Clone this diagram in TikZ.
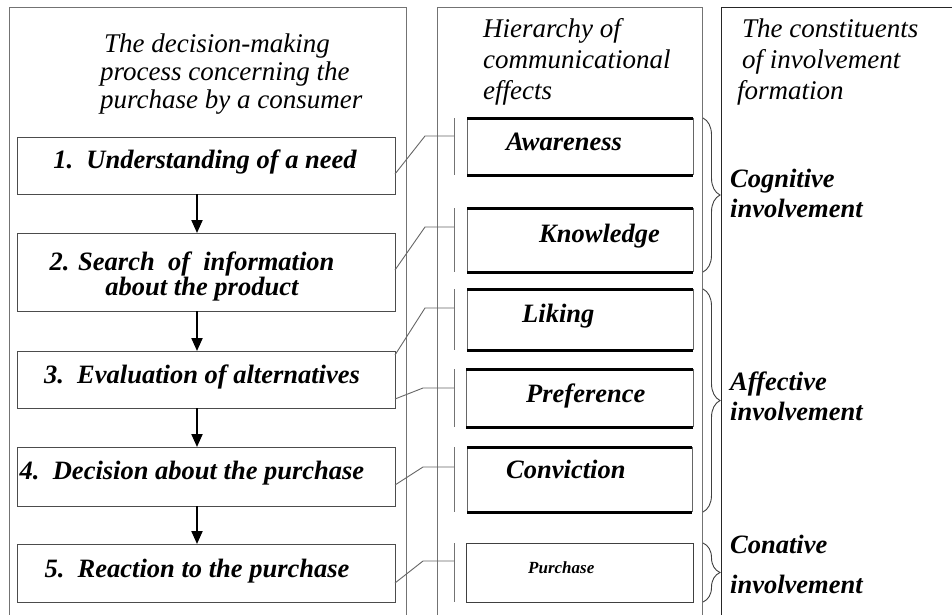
\documentclass[tikz,border=0pt]{standalone}
\usepackage{fontspec}
\setmainfont{Liberation Serif}
\usetikzlibrary{arrows.meta,decorations.pathreplacing,calc}
\begin{document}
\begin{tikzpicture}[x=1pt,y=-1pt,
  frame/.style={draw=black!55,line width=1pt},
  frame3/.style={draw=black!85,line width=1pt},
  stepbox/.style={draw=black!70,line width=1pt,minimum width=378pt,inner sep=0pt,outer sep=0pt},
  steptext/.style={font=\fontsize{26.5}{25}\selectfont\bfseries\itshape,inner sep=0pt,anchor=base,align=center},
  titletext/.style={font=\fontsize{27}{28}\selectfont\itshape,inner sep=0pt,anchor=base west,align=left},
  efftext/.style={font=\fontsize{26.5}{30}\selectfont\bfseries\itshape,inner sep=0pt,anchor=base west,align=left},
  effbox/.style={draw=none,minimum width=226pt,inner sep=0pt,outer sep=0pt},
  side/.style={draw=black!60,line width=1pt},
  bar/.style={draw=black,line width=3pt},
  tick/.style={draw=black!55,line width=1pt},
  conn/.style={draw=black!60,line width=0.9pt},
  arr/.style={draw=black,line width=2pt,-{Triangle[length=13pt,width=11pt]}},
  brc/.style={draw=black!75,line width=0.9pt,decorate,decoration={brace,amplitude=17pt}}
]
\useasboundingbox (0,0) rectangle (952,614);
\fill[white] (0,0) rectangle (952,614);

% column frames
\draw[frame] (9,620) -- (9,7) -- (406,7) -- (406,620);
\draw[frame] (437,620) -- (437,7) -- (702,7) -- (702,620);
\draw[frame3] (721,620) -- (721,7) -- (960,7);

% titles (anchor = baseline of last line)
\node[titletext] (title1) at (100,108) {\hspace{4pt}The decision-making\\process concerning the\\purchase by a consumer};
\node[titletext,font=\fontsize{27}{31}\selectfont\itshape] (title2) at (483,99) {Hierarchy of\\communicational\\effects};
\node[titletext,font=\fontsize{27}{31}\selectfont\itshape] (title3) at (737,99) {\hspace{5pt}The constituents\\\hspace{5pt}of involvement\\formation};

% step boxes
\node[stepbox,minimum height=57pt] (s1) at (206,165.5) {};
\node[stepbox,minimum height=78pt] (s2) at (206,272) {};
\node[stepbox,minimum height=57pt] (s3) at (206,379.5) {};
\node[stepbox,minimum height=59pt] (s4) at (206,476.5) {};
\node[stepbox,minimum height=58pt] (s5) at (206,573) {};

\node[steptext] (t1) at (205,168) {1.\ \ Understanding of a need};
\node[steptext] (t2) at (192,295) {2. Search\ \ of\ \ information\\\ \ \ about the product};
\node[steptext] (t3) at (202,383) {3.\ \ Evaluation of alternatives};
\node[steptext] (t4) at (192,479) {4.\ \ Decision about the purchase};
\node[steptext] (t5) at (197,577) {5.\ \ Reaction to the purchase};

% arrows between steps
\coordinate (ax) at (197,0);
\draw[arr] (s1.south -| ax) -- (s2.north -| ax);
\draw[arr] (s2.south -| ax) -- (s3.north -| ax);
\draw[arr] (s3.south -| ax) -- (s4.north -| ax);
\draw[arr] (s4.south -| ax) -- (s5.north -| ax);

% effect boxes
\node[effbox,minimum height=57pt] (aw) at (580,146.5) {};
\node[effbox,minimum height=64pt] (kn) at (580,240) {};
\node[effbox,minimum height=61pt] (li) at (580,319.5) {};
\node[effbox,minimum height=58pt,minimum width=227pt] (pr) at (579.5,398) {};
\node[effbox,minimum height=65pt,minimum width=225pt] (co) at (579.5,479.5) {};
\node[effbox,minimum height=59pt,minimum width=227pt] (pu) at (579.5,572.5) {};
\foreach \n in {aw,kn,li,pr,co}{
  \draw[side] (\n.north west) -- (\n.south west) (\n.north east) -- (\n.south east);
  \draw[bar] (\n.north west) -- (\n.north east) (\n.south west) -- (\n.south east);
}
\draw[draw=black!75,line width=1pt] (pu.north west) rectangle (pu.south east);

\node[efftext] (taw) at (506,150) {Awareness};
\node[efftext] (tkn) at (539,242) {Knowledge};
\node[efftext] (tli) at (522,322) {Liking};
\node[efftext] (tpr) at (526,402) {Preference};
\node[efftext] (tco) at (506,478) {Conviction};
\node[efftext,font=\fontsize{17}{20}\selectfont\bfseries\itshape] (tpu) at (528,573) {Purchase};

% ticks
\coordinate (tx) at (454,0);
\foreach \n in {aw,kn,li,pr,co,pu}{
  \draw[tick] (\n.north west -| tx) -- (\n.south west -| tx);
}

% connectors
\coordinate (b1) at (425,136);
\coordinate (b2) at (425,227);
\coordinate (b3) at (425,308);
\coordinate (b4) at (423,388);
\coordinate (b5) at (423,467);
\coordinate (b6) at (423,561);
\draw[conn] ($(s1.east)+(0,8.5)$) -- (b1) -- (b1 -| tx);
\draw[conn] ($(s2.east)+(0,-2)$) -- (b2) -- (b2 -| tx);
\draw[conn] ($(s3.north east)+(0,4)$) -- (b3) -- (b3 -| tx);
\draw[conn] ($(s3.east)+(0,19.5)$) -- (b4) -- (b4 -| tx);
\draw[conn] ($(s4.east)+(0,8.5)$) -- (b5) -- (b5 -| tx);
\draw[conn] ($(s5.east)+(0,10)$) -- (b6) -- (b6 -| tx);

% braces
\coordinate (bx) at (703,0);
\draw[brc] (aw.north -| bx) -- (kn.south -| bx);
\draw[brc] (li.north -| bx) -- (co.south -| bx);
\draw[brc] (pu.north -| bx) -- (pu.south -| bx);

% involvement labels (anchor = baseline of last line)
\node[efftext] (cog) at (730,217) {Cognitive\\involvement};
\node[efftext] (aff) at (730,420) {Affective\\involvement};
\node[efftext,font=\fontsize{26.5}{40}\selectfont\bfseries\itshape] (con) at (730,593) {Conative\\involvement};
\end{tikzpicture}
\end{document}
